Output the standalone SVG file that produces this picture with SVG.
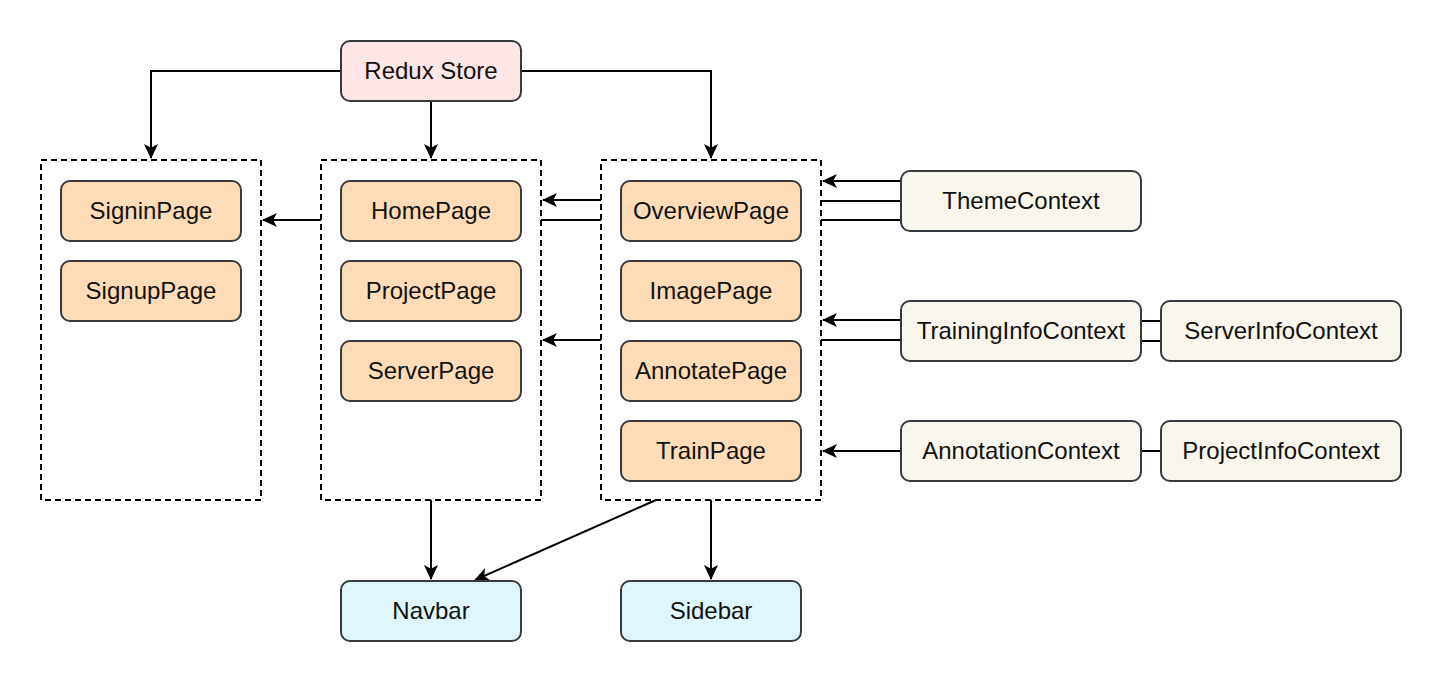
<svg xmlns="http://www.w3.org/2000/svg" width="1442" height="684" viewBox="0 0 1442 684">
<defs>
<marker id="arr" markerUnits="userSpaceOnUse" markerWidth="17" markerHeight="15" viewBox="0 0 17 15" refX="15" refY="7.5" orient="auto">
<path d="M16,7.5 L1,0.5 L4.8,7.5 L1,14.5 Z" fill="#000"/>
</marker>
</defs>
<style>
.n rect{stroke:#36393d;stroke-width:2}
.pg rect{fill:#ffdcb5}
.ctx rect{fill:#f9f7ed}
.rs rect{fill:#ffe6e6}
.nv rect{fill:#dff7fc}
text{font-family:"Liberation Sans",Arial,sans-serif;font-size:24px;fill:#111;text-anchor:middle;dominant-baseline:central}
.cont{fill:none;stroke:#000;stroke-width:2;stroke-dasharray:6 4}
#edges path{fill:none;stroke:#000;stroke-width:2}
.a{marker-end:url(#arr)}
</style>
<rect width="1442" height="684" fill="#fff"/>
<g id="containers">
<rect id="c-left" class="cont" x="41" y="160" width="220" height="340"/>
<rect id="c-mid" class="cont" x="321" y="160" width="220" height="340"/>
<rect id="c-right" class="cont" x="601" y="160" width="220" height="340"/>
</g>
<g id="edges">
<path class="a" d="M341,71 H151 V158"/>
<path class="a" d="M431,101 V158"/>
<path class="a" d="M521,71 H711 V158"/>
<path class="a" d="M321,220 H263"/>
<path class="a" d="M601,200 H543"/>
<path d="M601,220 H541"/>
<path class="a" d="M601,340 H543"/>
<path class="a" d="M901,181 H823"/>
<path d="M901,201 H821"/>
<path d="M901,220 H821"/>
<path class="a" d="M901,320 H823"/>
<path d="M901,340 H821"/>
<path d="M1141,321 H1161"/>
<path d="M1141,341 H1161"/>
<path class="a" d="M901,451 H823"/>
<path d="M1141,451 H1161"/>
<path class="a" d="M431,500 V579"/>
<path class="a" d="M656,500 L475,580"/>
<path class="a" d="M711,500 V579"/>
</g>
<g id="redux" class="n rs"><rect x="341" y="41" width="180" height="60" rx="9"/><text x="431" y="70">Redux Store</text></g>
<g id="signin" class="n pg"><rect x="61" y="181" width="180" height="60" rx="9"/><text x="151" y="210">SigninPage</text></g>
<g id="signup" class="n pg"><rect x="61" y="261" width="180" height="60" rx="9"/><text x="151" y="290">SignupPage</text></g>
<g id="home" class="n pg"><rect x="341" y="181" width="180" height="60" rx="9"/><text x="431" y="210">HomePage</text></g>
<g id="project" class="n pg"><rect x="341" y="261" width="180" height="60" rx="9"/><text x="431" y="290">ProjectPage</text></g>
<g id="server" class="n pg"><rect x="341" y="341" width="180" height="60" rx="9"/><text x="431" y="370">ServerPage</text></g>
<g id="overview" class="n pg"><rect x="621" y="181" width="180" height="60" rx="9"/><text x="711" y="210">OverviewPage</text></g>
<g id="image" class="n pg"><rect x="621" y="261" width="180" height="60" rx="9"/><text x="711" y="290">ImagePage</text></g>
<g id="annotate" class="n pg"><rect x="621" y="341" width="180" height="60" rx="9"/><text x="711" y="370">AnnotatePage</text></g>
<g id="train" class="n pg"><rect x="621" y="421" width="180" height="60" rx="9"/><text x="711" y="450">TrainPage</text></g>
<g id="theme" class="n ctx"><rect x="901" y="171" width="240" height="60" rx="9"/><text x="1021" y="200">ThemeContext</text></g>
<g id="traininginfo" class="n ctx"><rect x="901" y="301" width="240" height="60" rx="9"/><text x="1021" y="330">TrainingInfoContext</text></g>
<g id="serverinfo" class="n ctx"><rect x="1161" y="301" width="240" height="60" rx="9"/><text x="1281" y="330">ServerInfoContext</text></g>
<g id="annotation" class="n ctx"><rect x="901" y="421" width="240" height="60" rx="9"/><text x="1021" y="450">AnnotationContext</text></g>
<g id="projectinfo" class="n ctx"><rect x="1161" y="421" width="240" height="60" rx="9"/><text x="1281" y="450">ProjectInfoContext</text></g>
<g id="navbar" class="n nv"><rect x="341" y="581" width="180" height="60" rx="9"/><text x="431" y="610">Navbar</text></g>
<g id="sidebar" class="n nv"><rect x="621" y="581" width="180" height="60" rx="9"/><text x="711" y="610">Sidebar</text></g>
</svg>
